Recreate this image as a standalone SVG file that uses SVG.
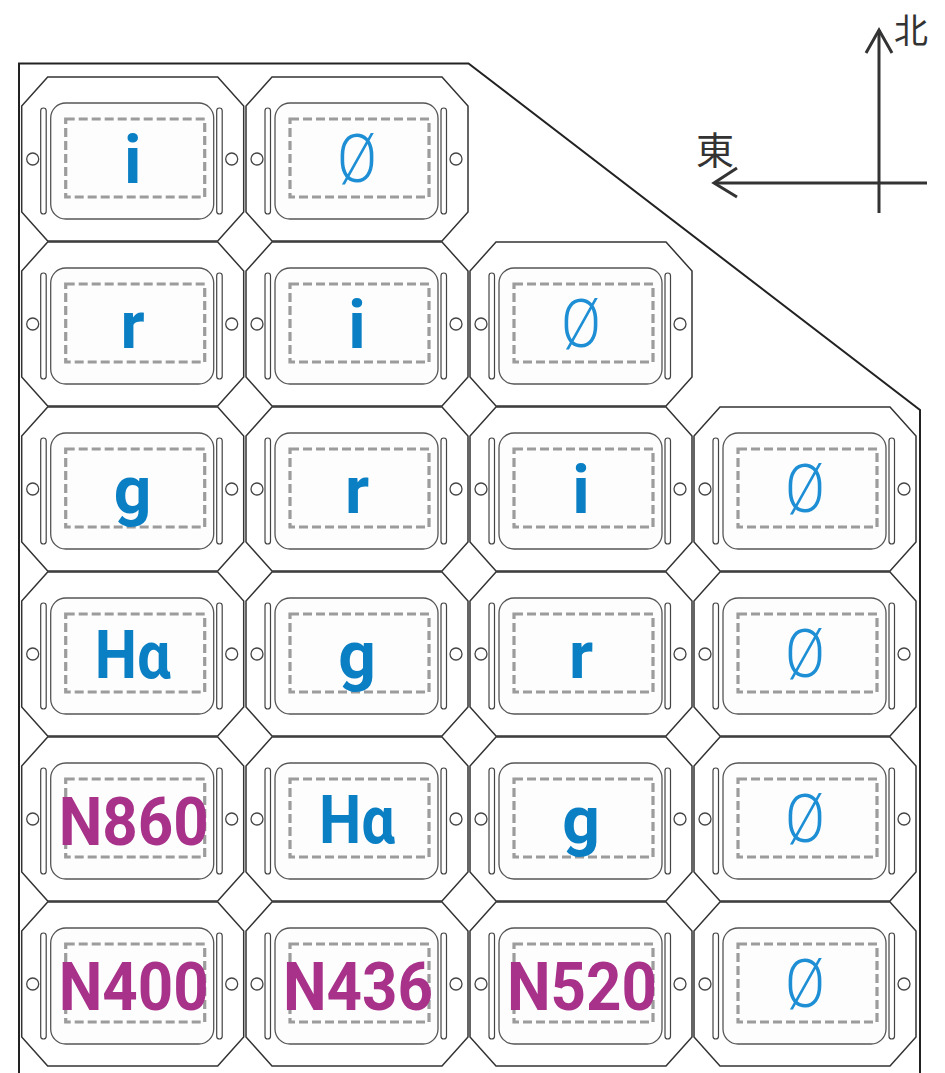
<svg xmlns="http://www.w3.org/2000/svg" xmlns:xlink="http://www.w3.org/1999/xlink" width="945" height="1073" viewBox="0 0 945 1073">
<style>
.oct{fill:#fff;stroke:#333;stroke-width:1.5}
.inner{fill:#fdfdfd;stroke:#555;stroke-width:1.3}
.slot{fill:#fff;stroke:#444;stroke-width:1.2}
.hole{fill:#fff;stroke:#444;stroke-width:1.3}
.dash{fill:none;stroke:#9c9c9c;stroke-width:3.2;stroke-dasharray:9 4}
.lb{font-family:Roboto,"Noto Sans","Liberation Sans",sans-serif;font-weight:700;font-size:66px;fill:#0b7fc4;text-anchor:middle}
.nb{font-family:Roboto,"Noto Sans","Liberation Sans",sans-serif;font-weight:700;font-size:67px;fill:#a8328a;text-anchor:middle}
.empty{font-family:Roboto,"Liberation Sans",sans-serif;font-weight:300;font-size:66px;fill:#1e8fd5;text-anchor:middle}
.cj{font-family:"Noto Sans CJK JP","Noto Sans CJK SC",sans-serif;fill:#333}
.ax{fill:none;stroke:#333;stroke-width:3}
</style>
<defs>
<g id="tile">
<path class="oct" d="M26,0 H196 L222,29 V135 L196,164 H26 L0,135 V29 Z"/>
<rect class="inner" x="29" y="26" width="163" height="116" rx="15"/>
<rect class="slot" x="19" y="31" width="5.5" height="106" rx="2.75"/>
<rect class="slot" x="195" y="31" width="5.5" height="106" rx="2.75"/>
<circle class="hole" cx="11" cy="82" r="6"/>
<circle class="hole" cx="210" cy="82" r="6"/>
<rect class="dash" x="44" y="42" width="139" height="78"/>
</g>
</defs>
<path id="outline" d="M19,1080 V63.5 H468.5 L920,410 V1080" fill="none" stroke="#222" stroke-width="2"/>

<g id="r0c0" transform="translate(21.7,77)"><use href="#tile"/><text class="lb" x="111" y="106">i</text></g>
<g id="r0c1" transform="translate(246,77)"><use href="#tile"/><text class="empty" x="111" y="105" textLength="40" lengthAdjust="spacingAndGlyphs">Ø</text></g>

<g id="r1c0" transform="translate(21.7,242)"><use href="#tile"/><text class="lb" x="111" y="106">r</text></g>
<g id="r1c1" transform="translate(246,242)"><use href="#tile"/><text class="lb" x="111" y="106">i</text></g>
<g id="r1c2" transform="translate(470,242)"><use href="#tile"/><text class="empty" x="111" y="105" textLength="40" lengthAdjust="spacingAndGlyphs">Ø</text></g>

<g id="r2c0" transform="translate(21.7,407)"><use href="#tile"/><text class="lb" x="111" y="106">g</text></g>
<g id="r2c1" transform="translate(246,407)"><use href="#tile"/><text class="lb" x="111" y="106">r</text></g>
<g id="r2c2" transform="translate(470,407)"><use href="#tile"/><text class="lb" x="111" y="106">i</text></g>
<g id="r2c3" transform="translate(694,407)"><use href="#tile"/><text class="empty" x="111" y="105" textLength="40" lengthAdjust="spacingAndGlyphs">Ø</text></g>

<g id="r3c0" transform="translate(21.7,572)"><use href="#tile"/><text class="lb" x="111" y="106" textLength="76" lengthAdjust="spacingAndGlyphs">Hα</text></g>
<g id="r3c1" transform="translate(246,572)"><use href="#tile"/><text class="lb" x="111" y="106">g</text></g>
<g id="r3c2" transform="translate(470,572)"><use href="#tile"/><text class="lb" x="111" y="106">r</text></g>
<g id="r3c3" transform="translate(694,572)"><use href="#tile"/><text class="empty" x="111" y="105" textLength="40" lengthAdjust="spacingAndGlyphs">Ø</text></g>

<g id="r4c0" transform="translate(21.7,737)"><use href="#tile"/><text class="nb" x="112" y="108" textLength="150" lengthAdjust="spacingAndGlyphs">N860</text></g>
<g id="r4c1" transform="translate(246,737)"><use href="#tile"/><text class="lb" x="111" y="106" textLength="76" lengthAdjust="spacingAndGlyphs">Hα</text></g>
<g id="r4c2" transform="translate(470,737)"><use href="#tile"/><text class="lb" x="111" y="106">g</text></g>
<g id="r4c3" transform="translate(694,737)"><use href="#tile"/><text class="empty" x="111" y="105" textLength="40" lengthAdjust="spacingAndGlyphs">Ø</text></g>

<g id="r5c0" transform="translate(21.7,902)"><use href="#tile"/><text class="nb" x="112" y="108" textLength="150" lengthAdjust="spacingAndGlyphs">N400</text></g>
<g id="r5c1" transform="translate(246,902)"><use href="#tile"/><text class="nb" x="112" y="108" textLength="150" lengthAdjust="spacingAndGlyphs">N436</text></g>
<g id="r5c2" transform="translate(470,902)"><use href="#tile"/><text class="nb" x="112" y="108" textLength="150" lengthAdjust="spacingAndGlyphs">N520</text></g>
<g id="r5c3" transform="translate(694,902)"><use href="#tile"/><text class="empty" x="111" y="105" textLength="40" lengthAdjust="spacingAndGlyphs">Ø</text></g>

<g id="compass">
<line class="ax" x1="879" y1="30" x2="879" y2="213"/>
<polyline class="ax" points="866,53 879,30 892,53"/>
<line class="ax" x1="714" y1="183" x2="927" y2="183"/>
<polyline class="ax" points="737,168 714,183 737,197"/>
<text class="cj" x="894" y="43" font-size="34">北</text>
<text class="cj" x="696" y="164" font-size="38">東</text>
</g>
</svg>
